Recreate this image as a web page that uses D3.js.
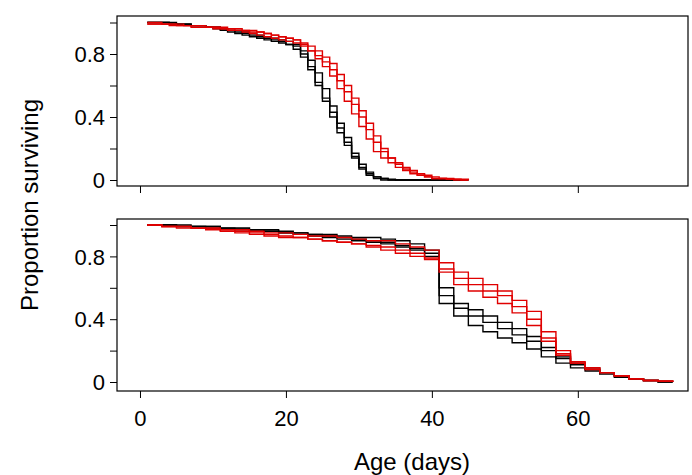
<!DOCTYPE html><html><head><script src="https://cdn.jsdelivr.net/npm/d3@7"></script>
<style>body{margin:0;background:#fff}text{font-family:"Liberation Sans",Arial,sans-serif}</style></head><body>
<svg id="c" width="692" height="475"></svg>
<script>
const topDays = d3.range(1, 46);
const topBlack = [
 [1,1,1,.99,.99,.99,.98,.98,.97,.97,.96,.95,.94,.93,.92,.91,.90,.89,.88,.86,.83,.78,.72,.62,.50,.40,.30,.22,.15,.08,.04,.02,.01,.005,0,0,0,0,0,0,0,0,0,0,0],
 [1,1,1,.99,.99,.99,.98,.98,.97,.97,.96,.95,.95,.94,.93,.92,.91,.90,.89,.88,.86,.82,.76,.68,.58,.47,.36,.27,.17,.10,.05,.02,.01,0,0,0,0,0,0,0,0,0,0,0,0],
 [1,1,1,1,.99,.99,.98,.98,.97,.96,.95,.94,.93,.92,.91,.90,.89,.88,.87,.86,.85,.80,.70,.60,.52,.43,.33,.24,.14,.07,.03,.01,0,0,0,0,0,0,0,0,0,0,0,0,0]
];
const topRed = [
 [.99,.99,.99,.99,.98,.98,.98,.98,.97,.97,.97,.96,.96,.95,.95,.94,.93,.92,.91,.90,.89,.86,.82,.77,.72,.66,.58,.50,.42,.34,.26,.18,.14,.11,.08,.06,.04,.03,.02,.01,.01,.005,0,0,0],
 [1,1,.99,.99,.99,.98,.98,.98,.97,.97,.96,.96,.95,.95,.94,.94,.93,.92,.91,.90,.89,.87,.85,.82,.78,.74,.67,.60,.52,.44,.36,.28,.20,.14,.10,.07,.05,.03,.02,.01,.01,.005,.005,0,0],
 [.99,.99,.99,.98,.98,.98,.97,.97,.97,.96,.96,.95,.95,.94,.93,.92,.91,.90,.89,.88,.87,.85,.82,.79,.75,.70,.63,.56,.48,.40,.32,.24,.18,.14,.11,.08,.06,.04,.03,.02,.01,.01,.005,.005,0]
];
const botDays = d3.range(1, 75, 2);
const botBlack = [
 [1,1,.99,.99,.98,.98,.97,.97,.96,.95,.94,.93,.92,.91,.90,.89,.88,.86,.84,.80,.50,.42,.36,.32,.28,.25,.21,.16,.12,.09,.07,.05,.03,.02,.01,0,0],
 [1,1,.99,.99,.99,.98,.98,.97,.97,.96,.95,.94,.94,.93,.92,.92,.91,.90,.88,.84,.55,.47,.42,.38,.34,.30,.26,.20,.15,.11,.08,.06,.04,.02,.01,0,0],
 [1,1,1,.99,.99,.98,.98,.97,.96,.95,.95,.94,.93,.92,.91,.90,.89,.87,.85,.82,.60,.50,.46,.42,.38,.34,.29,.22,.16,.12,.09,.06,.04,.02,.01,.005,0]
];
const botRed = [
 [1,.99,.99,.98,.98,.97,.96,.95,.94,.93,.92,.91,.90,.89,.88,.86,.84,.82,.80,.78,.72,.66,.62,.58,.55,.48,.40,.28,.18,.12,.09,.06,.04,.02,.01,.005,0],
 [1,.99,.99,.98,.98,.97,.97,.96,.95,.95,.94,.93,.93,.92,.91,.90,.90,.88,.86,.84,.76,.70,.66,.62,.58,.52,.45,.32,.20,.13,.09,.06,.04,.02,.01,.005,0],
 [1,.99,.98,.98,.97,.96,.95,.94,.93,.92,.92,.91,.90,.89,.88,.87,.86,.84,.82,.79,.70,.62,.58,.54,.50,.44,.36,.26,.17,.12,.08,.06,.04,.02,.01,.005,0]
];
const xTicks = [0,20,40,60];
const yTicks = [0,0.2,0.4,0.6,0.8,1.0];
const yLabels = {0:"0",0.4:"0.4",0.8:"0.8"};

const svg = d3.select("#c");
const x = d3.scaleLinear().domain([-3.15,75.1]).range([117,688]);
const panels = [
 {top:16,bot:186,y0:180,y1:22.5,days:topDays,black:topBlack,red:topRed,labels:false},
 {top:219,bot:391,y0:382,y1:225,days:botDays,black:botBlack,red:botRed,labels:true}
];
panels.forEach(p=>{
 const y = d3.scaleLinear().domain([0,1]).range([p.y0,p.y1]);
 const g = svg.append("g");
 const line = d3.line().x((d,i)=>x(p.days[i])).y(d=>y(d)).curve(d3.curveStepAfter);
 p.black.forEach(s=>g.append("path").attr("d",line(s)).attr("fill","none").attr("stroke","#000").attr("stroke-width",1.4));
 p.red.forEach(s=>g.append("path").attr("d",line(s)).attr("fill","none").attr("stroke","#e00000").attr("stroke-width",1.4));
 g.append("rect").attr("x",117).attr("y",p.top).attr("width",571).attr("height",p.bot-p.top).attr("fill","none").attr("stroke","#000").attr("stroke-width",1.2);
 const ya = d3.axisLeft(y).tickValues(yTicks).tickSize(7).tickFormat(d=>yLabels[d]||"");
 const ag = g.append("g").attr("transform","translate(117,0)").call(ya);
 ag.select(".domain").remove();
 ag.selectAll("text").attr("font-size",22).attr("fill","#000").attr("dy","0.35em").attr("x",-12).style("font-family","Liberation Sans, Arial");
 const xa = d3.axisBottom(x).tickValues(xTicks).tickSize(7).tickFormat(p.labels?d3.format("d"):"");
 const xg = g.append("g").attr("transform",`translate(0,${p.bot})`).call(xa);
 xg.select(".domain").remove();
 xg.selectAll("text").attr("font-size",22).attr("fill","#000").attr("y",19).style("font-family","Liberation Sans, Arial");
});
svg.append("text").attr("x",412).attr("y",470).attr("text-anchor","middle").attr("font-size",24).text("Age (days)");
svg.append("text").attr("transform","translate(38,205) rotate(-90)").attr("text-anchor","middle").attr("font-size",24).text("Proportion surviving");
</script></body></html>
